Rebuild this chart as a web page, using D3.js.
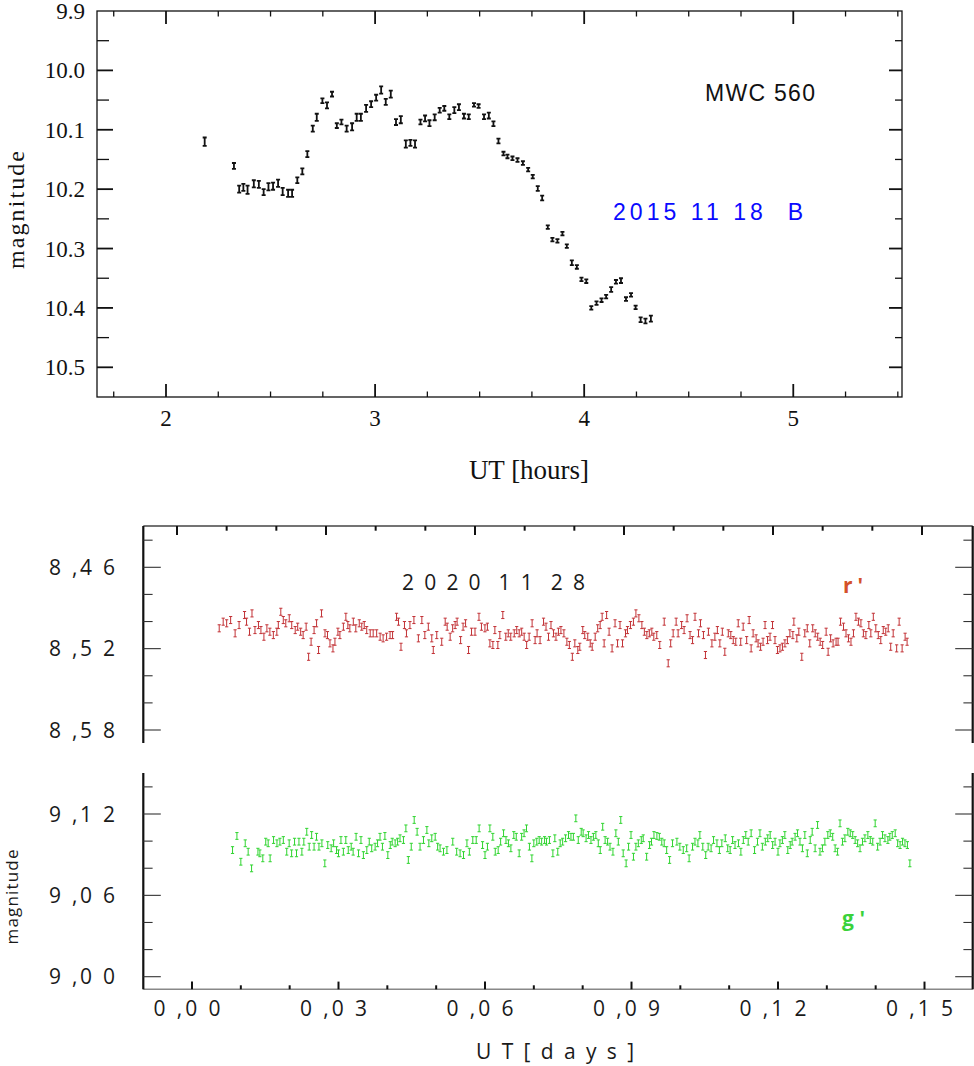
<!DOCTYPE html>
<html>
<head>
<meta charset="utf-8">
<script src="https://cdn.jsdelivr.net/npm/d3@7"></script>
<style>
  body { margin: 0; background: #fff; }
  svg { display: block; }
  text { white-space: pre; }
</style>
</head>
<body>
<svg id="chart" width="974" height="1066"></svg>
<script>
// ---------- top panel data: MWC 560, 2015 11 18, B band ----------
const bTime = [2.185, 2.325, 2.350, 2.370, 2.390, 2.420, 2.444, 2.467, 2.490, 2.512,
  2.536, 2.558, 2.584, 2.603, 2.628, 2.652, 2.676, 2.702, 2.721, 2.748,
  2.770, 2.794, 2.817, 2.839, 2.864, 2.890, 2.912, 2.932, 2.957, 2.981,
  3.005, 3.029, 3.051, 3.075, 3.100, 3.123, 3.147, 3.169, 3.191, 3.217,
  3.239, 3.260, 3.285, 3.309, 3.331, 3.355, 3.379, 3.401, 3.425, 3.448,
  3.473, 3.495, 3.521, 3.544, 3.566, 3.590, 3.614, 3.633, 3.657, 3.681,
  3.707, 3.732, 3.754, 3.778, 3.799, 3.826, 3.848, 3.872, 3.896, 3.917,
  3.941, 3.965, 3.987, 4.010, 4.034, 4.059, 4.083, 4.105, 4.129, 4.152,
  4.176, 4.200, 4.224, 4.246, 4.270, 4.293, 4.319];
const bMag = [10.120, 10.161, 10.200, 10.197, 10.201, 10.191, 10.192, 10.205, 10.196, 10.195,
  10.190, 10.204, 10.207, 10.207, 10.185, 10.170, 10.141, 10.098, 10.079, 10.051,
  10.059, 10.040, 10.093, 10.087, 10.098, 10.095, 10.079, 10.079, 10.064, 10.057,
  10.046, 10.033, 10.053, 10.040, 10.087, 10.083, 10.124, 10.122, 10.124, 10.087,
  10.081, 10.089, 10.079, 10.067, 10.064, 10.078, 10.067, 10.062, 10.077, 10.078,
  10.058, 10.060, 10.078, 10.076, 10.090, 10.119, 10.140, 10.145, 10.148, 10.151,
  10.156, 10.167, 10.179, 10.199, 10.215, 10.264, 10.285, 10.287, 10.275, 10.296,
  10.324, 10.331, 10.352, 10.355, 10.400, 10.392, 10.387, 10.381, 10.369, 10.356,
  10.354, 10.385, 10.378, 10.399, 10.420, 10.422, 10.418];
const bErr = [0.007, 0.005, 0.006, 0.006, 0.007, 0.006, 0.006, 0.005, 0.006, 0.006,
  0.006, 0.006, 0.006, 0.006, 0.005, 0.005, 0.005, 0.005, 0.006, 0.004,
  0.005, 0.004, 0.004, 0.004, 0.005, 0.006, 0.006, 0.006, 0.006, 0.005,
  0.005, 0.006, 0.005, 0.006, 0.005, 0.006, 0.006, 0.005, 0.006, 0.004,
  0.005, 0.005, 0.005, 0.004, 0.004, 0.004, 0.005, 0.005, 0.004, 0.004,
  0.003, 0.003, 0.004, 0.005, 0.004, 0.004, 0.003, 0.003, 0.003, 0.003,
  0.003, 0.003, 0.003, 0.004, 0.004, 0.003, 0.003, 0.003, 0.003, 0.003,
  0.004, 0.003, 0.003, 0.003, 0.003, 0.003, 0.003, 0.003, 0.004, 0.003,
  0.004, 0.003, 0.003, 0.003, 0.004, 0.004, 0.005];
const hourLabels = [2, 3, 4, 5];
const magLabelsTop = [9.9, 10.0, 10.1, 10.2, 10.3, 10.4, 10.5];

// ---------- bottom panels data: 2020 11 28, r' and g' ----------
const rTime = [0.0085, 0.0093, 0.0100, 0.0108, 0.0117, 0.0125, 0.0136, 0.0140, 0.0146, 0.0151,
  0.0157, 0.0164, 0.0169, 0.0175, 0.0181, 0.0187, 0.0194, 0.0201, 0.0204, 0.0209,
  0.0214, 0.0219, 0.0226, 0.0231, 0.0238, 0.0243, 0.0249, 0.0254, 0.0260, 0.0265,
  0.0270, 0.0276, 0.0281, 0.0285, 0.0291, 0.0298, 0.0303, 0.0308, 0.0314, 0.0318,
  0.0324, 0.0328, 0.0335, 0.0340, 0.0344, 0.0348, 0.0355, 0.0360, 0.0367, 0.0372,
  0.0377, 0.0382, 0.0389, 0.0395, 0.0402, 0.0409, 0.0415, 0.0422, 0.0429, 0.0434,
  0.0442, 0.0446, 0.0451, 0.0458, 0.0462, 0.0469, 0.0477, 0.0486, 0.0493, 0.0499,
  0.0506, 0.0513, 0.0516, 0.0523, 0.0533, 0.0540, 0.0544, 0.0550, 0.0555, 0.0560,
  0.0564, 0.0571, 0.0576, 0.0581, 0.0587, 0.0593, 0.0600, 0.0608, 0.0613, 0.0620,
  0.0625, 0.0630, 0.0636, 0.0640, 0.0646, 0.0650, 0.0656, 0.0662, 0.0667, 0.0672,
  0.0679, 0.0684, 0.0689, 0.0694, 0.0699, 0.0704, 0.0709, 0.0715, 0.0721, 0.0725,
  0.0731, 0.0738, 0.0743, 0.0748, 0.0753, 0.0758, 0.0763, 0.0768, 0.0773, 0.0779,
  0.0785, 0.0790, 0.0796, 0.0801, 0.0807, 0.0811, 0.0817, 0.0821, 0.0827, 0.0832,
  0.0836, 0.0842, 0.0847, 0.0852, 0.0856, 0.0860, 0.0865, 0.0870, 0.0876, 0.0882,
  0.0887, 0.0892, 0.0897, 0.0903, 0.0907, 0.0913, 0.0919, 0.0924, 0.0930, 0.0936,
  0.0941, 0.0946, 0.0951, 0.0956, 0.0960, 0.0966, 0.0972, 0.0981, 0.0989, 0.0994,
  0.0999, 0.1005, 0.1009, 0.1016, 0.1021, 0.1027, 0.1033, 0.1038, 0.1043, 0.1050,
  0.1054, 0.1060, 0.1064, 0.1070, 0.1077, 0.1083, 0.1088, 0.1093, 0.1098, 0.1103,
  0.1110, 0.1115, 0.1120, 0.1125, 0.1130, 0.1135, 0.1140, 0.1147, 0.1152, 0.1156,
  0.1160, 0.1166, 0.1170, 0.1175, 0.1180, 0.1184, 0.1189, 0.1194, 0.1199, 0.1204,
  0.1209, 0.1214, 0.1219, 0.1224, 0.1229, 0.1234, 0.1240, 0.1242, 0.1248, 0.1252,
  0.1258, 0.1264, 0.1269, 0.1274, 0.1280, 0.1285, 0.1290, 0.1295, 0.1300, 0.1307,
  0.1311, 0.1316, 0.1321, 0.1327, 0.1331, 0.1336, 0.1342, 0.1347, 0.1352, 0.1357,
  0.1362, 0.1367, 0.1372, 0.1377, 0.1382, 0.1387, 0.1393, 0.1397, 0.1402, 0.1407,
  0.1412, 0.1417, 0.1422, 0.1427, 0.1432, 0.1437, 0.1442, 0.1449, 0.1454, 0.1460,
  0.1466, 0.1470];
const rMag = [8.5050, 8.5001, 8.5013, 8.4989, 8.5087, 8.5026, 8.4952, 8.5001, 8.5075, 8.4940,
  8.5063, 8.5026, 8.5063, 8.5112, 8.5050, 8.5075, 8.5100, 8.5075, 8.5026, 8.4928,
  8.4989, 8.5013, 8.4976, 8.5026, 8.5063, 8.5038, 8.5075, 8.5100, 8.5038, 8.5260,
  8.5149, 8.5063, 8.5013, 8.5210, 8.4940, 8.5087, 8.5100, 8.5161, 8.5198, 8.5149,
  8.5075, 8.5100, 8.5038, 8.4965, 8.5026, 8.5050, 8.5001, 8.5050, 8.5013, 8.5038,
  8.5026, 8.5063, 8.5087, 8.5087, 8.5087, 8.5112, 8.5124, 8.5112, 8.5100, 8.5100,
  8.4965, 8.5001, 8.5186, 8.5026, 8.5087, 8.5026, 8.4989, 8.5124, 8.4989, 8.5100,
  8.5038, 8.5124, 8.5210, 8.5100, 8.5149, 8.5001, 8.5038, 8.5112, 8.5050, 8.5026,
  8.5001, 8.5137, 8.5038, 8.5013, 8.5210, 8.5075, 8.5075, 8.4965, 8.5038, 8.5050,
  8.5038, 8.5161, 8.5173, 8.5063, 8.5173, 8.5100, 8.4952, 8.5112, 8.5087, 8.5112,
  8.5087, 8.5063, 8.5087, 8.5075, 8.5112, 8.5173, 8.5112, 8.5013, 8.5137, 8.5087,
  8.5137, 8.5001, 8.5038, 8.5112, 8.5026, 8.5087, 8.5112, 8.5075, 8.5063, 8.5087,
  8.5149, 8.5173, 8.5260, 8.5161, 8.5210, 8.5186, 8.5063, 8.5100, 8.5112, 8.5161,
  8.5186, 8.5112, 8.5050, 8.5026, 8.4965, 8.5161, 8.4952, 8.5075, 8.5198, 8.5013,
  8.5161, 8.5026, 8.5161, 8.5087, 8.5063, 8.5026, 8.5001, 8.4940, 8.4976, 8.5026,
  8.5075, 8.5100, 8.5087, 8.5075, 8.5112, 8.5100, 8.5173, 8.5001, 8.5308, 8.5161,
  8.5087, 8.5001, 8.5087, 8.5026, 8.5063, 8.4976, 8.5100, 8.5137, 8.4965, 8.5087,
  8.5013, 8.5100, 8.5247, 8.5075, 8.5161, 8.5112, 8.5063, 8.5161, 8.5075, 8.5223,
  8.5087, 8.5100, 8.5137, 8.5149, 8.5013, 8.5149, 8.5038, 8.5137, 8.4989, 8.5198,
  8.5087, 8.5124, 8.5161, 8.5186, 8.5149, 8.5026, 8.5137, 8.5112, 8.5026, 8.5137,
  8.5210, 8.5198, 8.5186, 8.5161, 8.5137, 8.5087, 8.5100, 8.5001, 8.5124, 8.5075,
  8.5260, 8.5087, 8.5050, 8.5161, 8.5050, 8.5087, 8.5112, 8.5149, 8.5173, 8.5075,
  8.5223, 8.5124, 8.5161, 8.5149, 8.5149, 8.5001, 8.5038, 8.5087, 8.5124, 8.5149,
  8.5087, 8.4965, 8.5001, 8.5013, 8.5087, 8.5100, 8.5026, 8.5087, 8.4965, 8.5050,
  8.5100, 8.5137, 8.5063, 8.5075, 8.5050, 8.5186, 8.5087, 8.5198, 8.5001, 8.5198,
  8.5112, 8.5149];
const rErr = 0.0026;

const gTime = [0.0083, 0.0092, 0.0100, 0.0109, 0.0115, 0.0122, 0.0135, 0.0139, 0.0145, 0.0151,
  0.0156, 0.0160, 0.0167, 0.0174, 0.0180, 0.0187, 0.0194, 0.0199, 0.0204, 0.0210,
  0.0214, 0.0219, 0.0225, 0.0229, 0.0235, 0.0240, 0.0245, 0.0250, 0.0255, 0.0260,
  0.0266, 0.0272, 0.0278, 0.0285, 0.0290, 0.0296, 0.0300, 0.0305, 0.0310, 0.0315,
  0.0320, 0.0326, 0.0330, 0.0336, 0.0341, 0.0346, 0.0351, 0.0358, 0.0363, 0.0368,
  0.0375, 0.0380, 0.0385, 0.0390, 0.0395, 0.0401, 0.0406, 0.0410, 0.0416, 0.0421,
  0.0426, 0.0433, 0.0438, 0.0443, 0.0449, 0.0455, 0.0461, 0.0467, 0.0474, 0.0481,
  0.0485, 0.0491, 0.0498, 0.0503, 0.0508, 0.0515, 0.0522,
  0.0534, 0.0542, 0.0549, 0.0556, 0.0563, 0.0568, 0.0575, 0.0582, 0.0588, 0.0595,
  0.0600, 0.0605, 0.0610, 0.0616, 0.0621, 0.0627, 0.0632, 0.0638, 0.0643, 0.0648,
  0.0653, 0.0659, 0.0664, 0.0670, 0.0675, 0.0680, 0.0685, 0.0691, 0.0696, 0.0700,
  0.0706, 0.0711, 0.0716, 0.0722, 0.0726, 0.0732, 0.0739, 0.0743, 0.0749, 0.0754,
  0.0759, 0.0765, 0.0771, 0.0776, 0.0781, 0.0786, 0.0791, 0.0797, 0.0801, 0.0807,
  0.0812, 0.0817, 0.0822, 0.0827, 0.0832, 0.0836, 0.0841, 0.0846, 0.0851, 0.0856,
  0.0862, 0.0868, 0.0873, 0.0878, 0.0883, 0.0889, 0.0894, 0.0899, 0.0904, 0.0909,
  0.0914, 0.0920, 0.0924, 0.0931, 0.0937, 0.0941, 0.0946, 0.0952, 0.0957, 0.0962,
  0.0967, 0.0972, 0.0978, 0.0984,
  0.0993, 0.0999, 0.1006, 0.1013, 0.1018, 0.1025, 0.1030, 0.1036, 0.1040, 0.1046,
  0.1052, 0.1057, 0.1063, 0.1068, 0.1075, 0.1080, 0.1085, 0.1092, 0.1097, 0.1102,
  0.1107, 0.1112, 0.1119, 0.1124, 0.1129, 0.1134, 0.1139, 0.1145, 0.1152, 0.1158,
  0.1163, 0.1168, 0.1174, 0.1179, 0.1184, 0.1189, 0.1194, 0.1200, 0.1204, 0.1209,
  0.1214, 0.1220, 0.1225, 0.1229, 0.1235, 0.1240, 0.1245, 0.1250, 0.1255, 0.1260,
  0.1266, 0.1270, 0.1276, 0.1281, 0.1286, 0.1291, 0.1296, 0.1302, 0.1307, 0.1312,
  0.1317, 0.1322, 0.1327, 0.1332, 0.1337, 0.1343, 0.1348, 0.1353, 0.1358, 0.1363,
  0.1368, 0.1373, 0.1378, 0.1384, 0.1389, 0.1394, 0.1399, 0.1404, 0.1409, 0.1414,
  0.1419, 0.1425, 0.1429, 0.1434, 0.1440, 0.1445, 0.1450, 0.1455, 0.1460, 0.1465,
  0.1470];
const gMag = [9.0934, 9.1038, 9.0848, 9.0984, 9.0922, 9.0799, 9.0922, 9.0910, 9.0873, 9.0996,
  9.0984, 9.0873, 9.1008, 9.0984, 9.0996, 9.1008, 9.0922, 9.0984, 9.0910, 9.0996,
  9.0910, 9.0996, 9.0922, 9.0996, 9.1069, 9.0959, 9.1045, 9.0959, 9.1032, 9.0959,
  9.0984, 9.0836, 9.0971, 9.0947, 9.0984, 9.0934, 9.0910, 9.1008, 9.0922, 9.1008,
  9.0934, 9.0959, 9.0922, 9.1032, 9.0910, 9.1008, 9.0897, 9.0934, 9.0996, 9.0947,
  9.0959, 9.0984, 9.1032, 9.0959, 9.1038, 9.0897, 9.0971, 9.0996, 9.0984, 9.0996,
  9.1021, 9.1008, 9.1094, 9.0861, 9.0959, 9.1156, 9.1069, 9.0959, 9.1008, 9.1082,
  9.0984, 9.1021, 9.1032, 9.0959, 9.0947, 9.0922, 9.0934,
  9.0996, 9.0922, 9.0910, 9.0897, 9.0984, 9.0922, 9.1008, 9.1008, 9.1094, 9.0971,
  9.0897, 9.0959, 9.1094, 9.1032, 9.0922, 9.0934, 9.0996, 9.1058, 9.1008, 9.0984,
  9.0947, 9.1045, 9.1032, 9.0910, 9.1032, 9.1058, 9.1094, 9.0959, 9.0873, 9.0984,
  9.0996, 9.1008, 9.0996, 9.1008, 9.0996, 9.1008, 9.0910, 9.1021, 9.0922, 9.0984,
  9.0996, 9.1021, 9.1045, 9.1032, 9.1032, 9.1168, 9.1008, 9.1069, 9.1058, 9.1021,
  9.1045, 9.1008, 9.1032, 9.1045, 9.0984, 9.0934, 9.1106, 9.1008, 9.0996, 9.0959,
  9.0922, 9.1058, 9.0996, 9.1156, 9.0910, 9.0836, 9.0959, 9.1045, 9.0885, 9.0959,
  9.0984, 9.1008, 9.1021, 9.0885, 9.0971, 9.0996, 9.1045, 9.1038, 9.1032, 9.0996,
  9.0984, 9.0934, 9.0861, 9.0984,
  9.0996, 9.0959, 9.0934, 9.0947, 9.0873, 9.0959, 9.0996, 9.0984, 9.1045, 9.0959,
  9.0897, 9.0959, 9.0947, 9.1008, 9.0984, 9.0934, 9.0984, 9.1021, 9.0947, 9.0934,
  9.1008, 9.0971, 9.0984, 9.0922, 9.1008, 9.1045, 9.0996, 9.1058, 9.0934, 9.0996,
  9.1058, 9.0959, 9.0996, 9.1021, 9.1045, 9.0971, 9.0996, 9.0922, 9.0984, 9.1008,
  9.1045, 9.0934, 9.0971, 9.0996, 9.1032, 9.1058, 9.0996, 9.0947, 9.1045, 9.0910,
  9.1008, 9.1069, 9.0947, 9.1119, 9.0922, 9.0947, 9.0996, 9.1045, 9.1058, 9.1032,
  9.0947, 9.0922, 9.1131, 9.0996, 9.1021, 9.1069, 9.1058, 9.1045, 9.1008, 9.0984,
  9.0947, 9.0996, 9.1021, 9.1045, 9.1008, 9.0996, 9.1131, 9.0959, 9.0996, 9.1045,
  9.1021, 9.1008, 9.1032, 9.1045, 9.1058, 9.0984, 9.0971, 9.0996, 9.0984, 9.0971,
  9.0836];
const gErr = 0.0025;

const dayLabels = [0, 0.03, 0.06, 0.09, 0.12, 0.15];
const magLabelsR = [8.46, 8.52, 8.58];
const magLabelsG = [9.00, 9.06, 9.12];

// ---------- svg ----------
const svg = d3.select("#chart");
svg.append("rect").attr("width", 974).attr("height", 1066).attr("fill", "#fff");

const serif = "'Liberation Serif', 'Times New Roman', serif";
const sans = "'Open Sans', 'DejaVu Sans', sans-serif";

// draws "I" shaped error bars
function errorBars(g, pts, x, y, cap, color, width) {
  g.selectAll("path.err")
    .data(pts)
    .join("path")
    .attr("class", "err")
    .attr("fill", "none")
    .attr("stroke", color)
    .attr("stroke-width", width)
    .attr("d", d => {
      const cx = x(d.t), y1 = y(d.m - d.e), y2 = y(d.m + d.e);
      return `M${cx - cap},${y1}H${cx + cap}M${cx},${y1}V${y2}M${cx - cap},${y2}H${cx + cap}`;
    });
}

// =============== top chart ===============
const xTop = d3.scaleLinear().domain([1.67, 5.52]).range([97, 902]);
const yTop = d3.scaleLinear().domain([9.9, 10.55]).range([11, 397]);
const topG = svg.append("g");

const [tx0, tx1] = xTop.range();
const [ty0, ty1] = yTop.range();

topG.append("rect")
  .attr("x", tx0).attr("y", ty0)
  .attr("width", tx1 - tx0).attr("height", ty1 - ty0)
  .attr("fill", "none").attr("stroke", "#111").attr("stroke-width", 1.3);

// x ticks every quarter hour, both edges, pointing inward
const hourTicks = d3.range(7, 23).map(d => d / 4);
topG.selectAll("line.xt")
  .data(hourTicks.flatMap(d => [{ d, side: "b" }, { d, side: "t" }]))
  .join("line")
  .attr("x1", t => xTop(t.d)).attr("x2", t => xTop(t.d))
  .attr("y1", t => t.side === "b" ? ty1 : ty0)
  .attr("y2", t => {
    const len = Number.isInteger(t.d) ? 13 : 5.5;
    return t.side === "b" ? ty1 - len : ty0 + len;
  })
  .attr("stroke", "#111").attr("stroke-width", t => Number.isInteger(t.d) ? 1.8 : 1.3);

// y ticks every 0.05 mag
const magTicksTop = d3.range(199, 211).map(d => d / 20);
topG.selectAll("line.yt")
  .data(magTicksTop.flatMap(d => [{ d, side: "l" }, { d, side: "r" }]))
  .join("line")
  .attr("y1", t => yTop(t.d)).attr("y2", t => yTop(t.d))
  .attr("x1", t => t.side === "l" ? tx0 : tx1)
  .attr("x2", t => {
    const major = Math.round(t.d * 20) % 2 === 0;
    if (t.side === "l") return tx0 + (major ? 16 : 12);
    return tx1 - (major ? 13 : 7);
  })
  .attr("stroke", "#111")
  .attr("stroke-width", t => Math.round(t.d * 20) % 2 === 0 ? 1.8 : 1.3);

topG.selectAll("text.yl")
  .data(magLabelsTop)
  .join("text")
  .attr("x", 85).attr("y", d => yTop(d))
  .attr("dy", "0.35em")
  .attr("text-anchor", "end")
  .attr("font-family", serif).attr("font-size", 23)
  .attr("fill", "#111")
  .text(d => d3.format(".1f")(d));

topG.selectAll("text.xl")
  .data(hourLabels)
  .join("text")
  .attr("x", d => xTop(d)).attr("y", 418)
  .attr("dy", "0.35em")
  .attr("text-anchor", "middle")
  .attr("font-family", serif).attr("font-size", 23)
  .attr("fill", "#111")
  .text(d => d);

topG.append("text")
  .attr("transform", "translate(24,210) rotate(-90)")
  .attr("text-anchor", "middle")
  .attr("font-family", serif).attr("font-size", 24)
  .attr("textLength", 118).attr("lengthAdjust", "spacing")
  .attr("fill", "#111")
  .text("magnitude");

topG.append("text")
  .attr("x", 529).attr("y", 470).attr("dy", "0.35em")
  .attr("text-anchor", "middle")
  .attr("font-family", serif).attr("font-size", 27)
  .attr("fill", "#111")
  .text("UT [hours]");

topG.append("text")
  .attr("x", 705).attr("y", 93).attr("dy", "0.35em")
  .attr("font-family", "'Liberation Sans', Arial, sans-serif").attr("font-size", 23)
  .attr("textLength", 110).attr("lengthAdjust", "spacing")
  .attr("fill", "#111")
  .text("MWC 560");

topG.append("text")
  .attr("x", 613).attr("y", 212).attr("dy", "0.35em")
  .attr("font-family", "'Liberation Sans', Arial, sans-serif").attr("font-size", 23)
  .attr("textLength", 190).attr("lengthAdjust", "spacing")
  .attr("fill", "#0a0aff")
  .text("2015 11 18  B");

const bPts = bTime.map((t, i) => ({ t, m: bMag[i], e: bErr[i] }));
errorBars(topG.append("g"), bPts, xTop, yTop, 2, "#111", 1.8);

// =============== bottom chart ===============
const panelL = 143.3, panelR = 972.7;
const xR = d3.scaleLinear().domain([0, 0.15]).range([177, 922]);
const xG = d3.scaleLinear().domain([0, 0.15]).range([192, 924.5]);
const yR = d3.scaleLinear().domain([8.46, 8.58]).range([567.3, 730]);
const yG = d3.scaleLinear().domain([9.00, 9.12]).range([976.7, 814]);
const rTop = 526, rBot = 743, gTop = 773, gBot = 989.3;

const botG = svg.append("g");

const commaFmt = d => {
  const s = d.toFixed(2);
  return s[0] + " ," + s[2] + " " + s[3];
};
const isMajorDay = d => Math.round(d * 100) % 3 === 0;
const dayTicks = d3.range(0, 16).map(d => d / 100);

// frame lines
botG.append("line").attr("x1", panelL).attr("x2", panelR).attr("y1", rTop).attr("y2", rTop)
  .attr("stroke", "#444").attr("stroke-width", 1.3);
botG.append("line").attr("x1", panelL).attr("x2", panelR).attr("y1", gBot).attr("y2", gBot)
  .attr("stroke", "#888").attr("stroke-width", 1.6);
[[rTop, rBot], [gTop, gBot]].forEach(([a, b]) => {
  [panelL, panelR].forEach(x => {
    botG.append("line").attr("x1", x).attr("x2", x).attr("y1", a).attr("y2", b)
      .attr("stroke", "#111").attr("stroke-width", 2.2);
  });
});

// y ticks for both panels
function magAxis(y, ticks, labels) {
  const isLab = d => labels.some(l => Math.abs(l - d) < 1e-6);
  const data = ticks.flatMap(d => [{ d, side: "l" }, { d, side: "r" }]);
  botG.append("g").selectAll("line")
    .data(data)
    .join("line")
    .attr("y1", t => y(t.d)).attr("y2", t => y(t.d))
    .attr("x1", t => t.side === "l" ? panelL : panelR)
    .attr("x2", t => {
      const len = isLab(t.d) ? 17.5 : 9.3;
      return t.side === "l" ? panelL + len : panelR - len;
    })
    .attr("stroke", "#333").attr("stroke-width", 1.1);
  botG.append("g").selectAll("text")
    .data(labels)
    .join("text")
    .attr("x", 115).attr("y", d => y(d)).attr("dy", "0.36em")
    .attr("text-anchor", "end")
    .attr("font-family", sans).attr("font-size", 21)
    .attr("textLength", 66).attr("lengthAdjust", "spacing")
    .attr("fill", "#1a1a1a")
    .text(commaFmt);
}
magAxis(yR, d3.range(422, 430).map(d => d / 50), magLabelsR);
magAxis(yG, d3.range(450, 458).map(d => d / 50), magLabelsG);

// x ticks: top of r' panel (down), bottom of g' panel (up)
botG.append("g").selectAll("line")
  .data(dayTicks)
  .join("line")
  .attr("x1", d => xR(d)).attr("x2", d => xR(d))
  .attr("y1", rTop).attr("y2", d => rTop + (isMajorDay(d) ? 9 : 4.7))
  .attr("stroke", "#111").attr("stroke-width", 2);
botG.append("g").selectAll("line")
  .data(dayTicks)
  .join("line")
  .attr("x1", d => xG(d)).attr("x2", d => xG(d))
  .attr("y1", gBot).attr("y2", d => gBot - (isMajorDay(d) ? 7.7 : 4))
  .attr("stroke", "#111").attr("stroke-width", 2);

botG.append("g").selectAll("text")
  .data(dayLabels)
  .join("text")
  .attr("x", d => xG(d) - 5).attr("y", 1008).attr("dy", "0.36em")
  .attr("text-anchor", "middle")
  .attr("font-family", sans).attr("font-size", 21)
  .attr("textLength", 67).attr("lengthAdjust", "spacing")
  .attr("fill", "#1a1a1a")
  .text(commaFmt);

botG.append("text")
  .attr("x", 555).attr("y", 1051).attr("dy", "0.36em")
  .attr("text-anchor", "middle")
  .attr("font-family", sans).attr("font-size", 21)
  .attr("textLength", 158).attr("lengthAdjust", "spacing")
  .attr("fill", "#1a1a1a")
  .text("U T [ d a y s ]");

botG.append("text")
  .attr("transform", "translate(12,897) rotate(-90)")
  .attr("dy", "0.35em")
  .attr("text-anchor", "middle")
  .attr("font-family", sans).attr("font-size", 17)
  .attr("textLength", 95).attr("lengthAdjust", "spacing")
  .attr("fill", "#1a1a1a")
  .text("magnitude");

botG.append("text")
  .attr("x", 402).attr("y", 582).attr("dy", "0.36em")
  .attr("font-family", sans).attr("font-size", 21)
  .attr("textLength", 183).attr("lengthAdjust", "spacing")
  .attr("fill", "#1a1a1a")
  .text("2 0 2 0  1 1  2 8");

botG.append("text")
  .attr("x", 843).attr("y", 585).attr("dy", "0.36em")
  .attr("font-family", sans).attr("font-size", 21).attr("font-weight", "bold")
  .attr("textLength", 20).attr("lengthAdjust", "spacing")
  .attr("fill", "#d4512a")
  .text("r '");

botG.append("text")
  .attr("x", 842).attr("y", 918).attr("dy", "0.36em")
  .attr("font-family", sans).attr("font-size", 21).attr("font-weight", "bold")
  .attr("textLength", 23).attr("lengthAdjust", "spacing")
  .attr("fill", "#3ad23a")
  .text("g '");

const rPts = rTime.map((t, i) => ({ t, m: rMag[i], e: rErr }));
const gPts = gTime.map((t, i) => ({ t, m: gMag[i], e: gErr }));
errorBars(botG.append("g"), rPts, xR, yR, 1.6, "#c23236", 1);
errorBars(botG.append("g"), gPts, xG, yG, 1.6, "#2fd42f", 1);
</script>
</body>
</html>
